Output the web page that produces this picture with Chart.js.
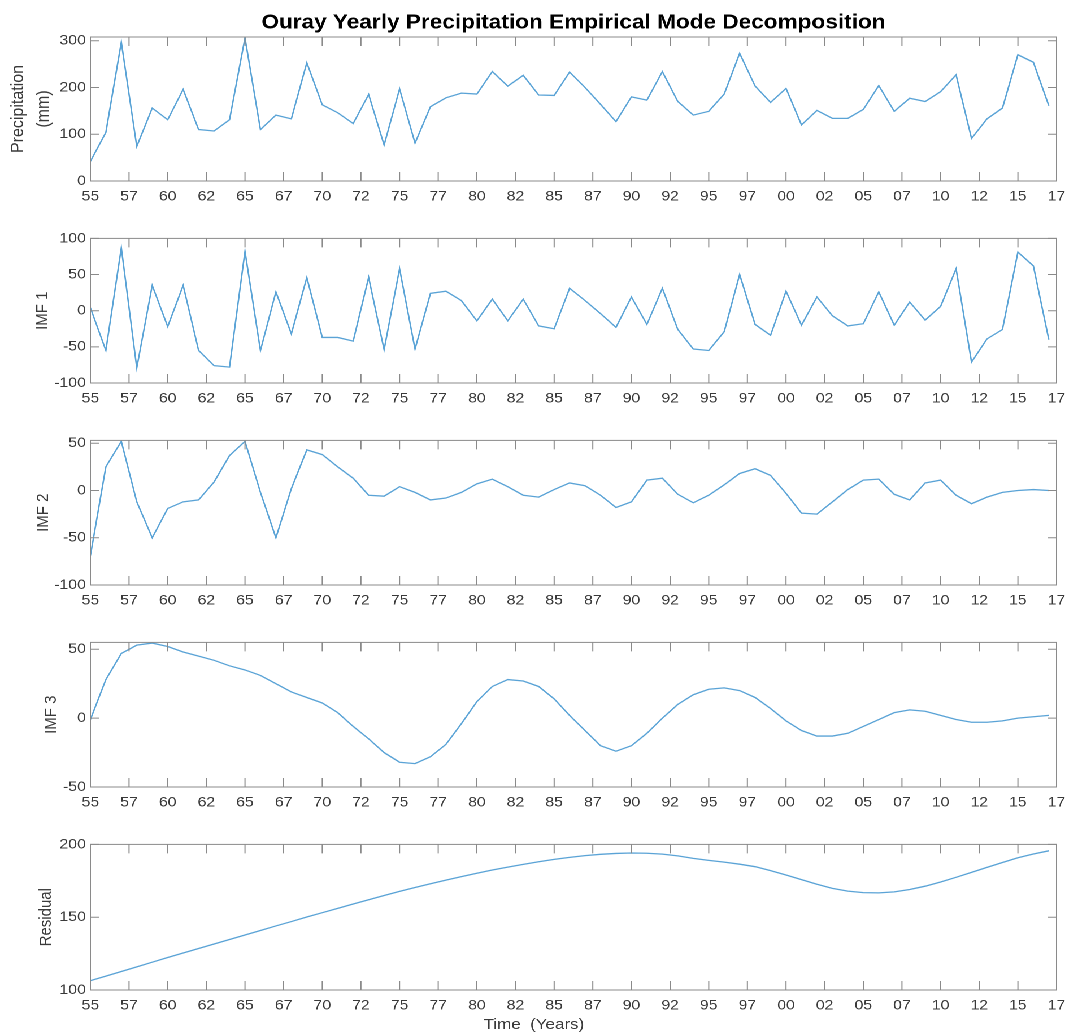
<!DOCTYPE html>
<html>
<head>
<meta charset="utf-8">
<title>Ouray Yearly Precipitation Empirical Mode Decomposition</title>
<script src="https://cdn.jsdelivr.net/npm/chart.js@4.4.1/dist/chart.umd.min.js"></script>
<style>
  html, body { margin: 0; padding: 0; background: #fff; overflow: hidden; }
  #page { position: relative; width: 1068px; height: 1036px; overflow: hidden; background: #fff; }
  /* the source figure is stretched horizontally, so the whole stage is too */
  #stage { position: absolute; left: 0; top: 0; width: 945px; height: 1036px; transform: scaleX(1.13); transform-origin: 0 0; }
  #stage canvas { position: absolute; left: 0; }
</style>
</head>
<body>
<div id="page"><div id="stage"></div></div>
<script>
// ---- data ----
const years = [1955, 1956, 1957, 1958, 1959, 1960, 1961, 1962, 1963, 1964,
  1965, 1966, 1967, 1968, 1969, 1970, 1971, 1972, 1973, 1974,
  1975, 1976, 1977, 1978, 1979, 1980, 1981, 1982, 1983, 1984,
  1985, 1986, 1987, 1988, 1989, 1990, 1991, 1992, 1993, 1994,
  1995, 1996, 1997, 1998, 1999, 2000, 2001, 2002, 2003, 2004,
  2005, 2006, 2007, 2008, 2009, 2010, 2011, 2012, 2013, 2014,
  2015, 2016, 2017];

const precipitation = [42, 104, 297, 74, 156, 131, 196, 110, 107, 131,
  306, 110, 141, 133, 253, 163, 146, 123, 185, 77,
  197, 81, 159, 178, 188, 186, 234, 203, 226, 184,
  183, 233, 200, 164, 127, 180, 173, 234, 170, 141,
  149, 186, 273, 203, 168, 198, 120, 151, 134, 134,
  153, 204, 149, 177, 170, 191, 227, 91, 133, 156,
  270, 254, 161];

const imf1 = [4, -55, 87, -79, 35, -22, 35, -55, -76, -78,
  82, -55, 26, -32, 46, -37, -37, -42, 46, -54,
  58, -53, 24, 27, 14, -14, 16, -14, 16, -21,
  -25, 31, 14, -4, -23, 19, -19, 31, -26, -53,
  -55, -29, 50, -19, -34, 27, -20, 19, -7, -21,
  -18, 26, -20, 12, -13, 6, 58, -71, -39, -26,
  81, 62, -40];

const imf2 = [-69, 25, 52, -12, -50, -19, -12, -10, 9, 37,
  52, -2, -50, 2, 43, 38, 25, 13, -5, -6,
  4, -2, -10, -8, -2, 7, 12, 4, -5, -7,
  1, 8, 5, -5, -18, -12, 11, 13, -4, -13,
  -5, 6, 18, 23, 16, -3, -24, -25, -12, 1,
  11, 12, -4, -10, 8, 11, -5, -14, -7, -2,
  0, 1, 0];

const imf3 = [-1, 28, 47, 53, 54.5, 52, 48, 45, 42, 38,
  35, 31, 25, 19, 15, 11, 4, -6, -15, -25,
  -32, -33, -28, -19, -4, 12, 23, 28, 27, 23,
  14, 2, -9, -20, -24, -20, -11, 0, 10, 17,
  21, 22, 20, 15, 7, -2, -9, -13, -13, -11,
  -6, -1, 4, 6, 5, 2, -1, -3, -3, -2,
  0, 1, 2];

const residual = [106.4, 109.5, 112.7, 115.9, 119.1, 122.3, 125.4, 128.5, 131.6, 134.7,
  137.8, 140.9, 144, 147, 150.1, 153.1, 156.1, 159.1, 162, 164.9,
  167.7, 170.4, 173, 175.5, 177.9, 180.2, 182.4, 184.4, 186.3, 188.1,
  189.7, 191.1, 192.3, 193.2, 193.8, 194.1, 193.9, 193.3, 192.1, 190.4,
  189, 187.8, 186.4, 184.7, 182, 179, 175.8, 172.6, 169.8, 167.9,
  166.9, 166.7, 167.4, 169, 171.3, 174.2, 177.4, 180.8, 184.2, 187.6,
  190.8, 193.4, 195.6];

const xTickValues = [1955, 1957.5, 1960, 1962.5, 1965, 1967.5, 1970, 1972.5, 1975, 1977.5,
  1980, 1982.5, 1985, 1987.5, 1990, 1992.5, 1995, 1997.5, 2000, 2002.5,
  2005, 2007.5, 2010, 2012.5, 2015, 2017.5];
const xTickLabels = ['55', '57', '60', '62', '65', '67', '70', '72', '75', '77',
  '80', '82', '85', '87', '90', '92', '95', '97', '00', '02',
  '05', '07', '10', '12', '15', '17'];

const precipTicks = [0, 100, 200, 300];
const imf1Ticks = [-100, -50, 0, 50, 100];
const imf2Ticks = [-100, -50, 0, 50];
const imf3Ticks = [-50, 0, 50];
const residualTicks = [100, 150, 200];

const chartTitle = 'Ouray Yearly Precipitation Empirical Mode Decomposition';
const xTitle = 'Time  (Years)';

// ---- layout / style ----
const FONT = "'Liberation Sans', Arial, Helvetica, sans-serif";
const LINE = '#5aa3d6';
const FRAME = '#8a8a8a';
const TEXT = '#3a3a3a';
const STAGE_W = 945;

const panels = [
  { values: precipitation, label: ['Precipitation', '(mm)'], min: 0, max: 308, ticks: precipTicks,
    canvasTop: 0, padTop: 0, plotBottom: 181, xHeight: 30, titleSize: 16, titlePad: 5, titleLH: 1.4 },
  { values: imf1, label: 'IMF 1', min: -100, max: 100, ticks: imf1Ticks,
    canvasTop: 226, padTop: 12, plotBottom: 383, xHeight: 30, titleSize: 15, titlePad: 29, titleLH: 1.2 },
  { values: imf2, label: 'IMF 2', min: -100, max: 53, ticks: imf2Ticks,
    canvasTop: 428, padTop: 12, plotBottom: 585, xHeight: 30, titleSize: 15, titlePad: 29.5, titleLH: 1.2 },
  { values: imf3, label: 'IMF 3', min: -50, max: 55, ticks: imf3Ticks,
    canvasTop: 630, padTop: 12, plotBottom: 787, xHeight: 30, titleSize: 15, titlePad: 36.5, titleLH: 1.2 },
  { values: residual, label: 'Residual', min: 100, max: 200, ticks: residualTicks,
    canvasTop: 832, padTop: 12, plotBottom: 990, xHeight: 46, titleSize: 15, titlePad: 32, titleLH: 1.2 }
];

// frame box + inward tick marks on all four sides, MATLAB style
const frameTicks = {
  id: 'frameTicks',
  afterDatasetsDraw(chart) {
    const { ctx, chartArea: a, scales: { x, y } } = chart;
    ctx.save();
    ctx.strokeStyle = FRAME;
    ctx.lineWidth = 1;
    ctx.strokeRect(a.left, a.top, a.right - a.left, a.bottom - a.top);
    ctx.beginPath();
    x.ticks.forEach(t => {
      const px = x.getPixelForValue(t.value);
      ctx.moveTo(px, a.bottom); ctx.lineTo(px, a.bottom - 9);
      ctx.moveTo(px, a.top); ctx.lineTo(px, a.top + 9);
    });
    y.ticks.forEach(t => {
      const py = y.getPixelForValue(t.value);
      ctx.moveTo(a.left, py); ctx.lineTo(a.left + 8, py);
      ctx.moveTo(a.right, py); ctx.lineTo(a.right - 8, py);
    });
    ctx.stroke();
    ctx.restore();
  }
};

// x label of the bottom panel sits a little left of centre in the source
const xLabel = {
  id: 'xLabel',
  afterDraw(chart, args, opts) {
    if (!opts.text) return;
    const { ctx, chartArea: a } = chart;
    ctx.save();
    ctx.font = '15px ' + FONT;
    ctx.fillStyle = TEXT;
    ctx.textAlign = 'center';
    ctx.textBaseline = 'middle';
    ctx.fillText(opts.text, (a.left + a.right) / 2 - 35, a.bottom + 35);
    ctx.restore();
  }
};

Chart.defaults.font.family = FONT;
Chart.defaults.color = TEXT;

const stage = document.getElementById('stage');

panels.forEach((p, i) => {
  const last = i === panels.length - 1;
  const canvas = document.createElement('canvas');
  canvas.width = STAGE_W;
  canvas.height = p.plotBottom - p.canvasTop + p.xHeight;
  canvas.style.top = p.canvasTop + 'px';
  stage.appendChild(canvas);

  new Chart(canvas, {
    type: 'line',
    data: {
      datasets: [{
        data: years.map((yr, k) => ({ x: yr, y: p.values[k] })),
        borderColor: LINE,
        borderWidth: 1.3,
        pointRadius: 0,
        tension: 0,
        fill: false
      }]
    },
    options: {
      responsive: false,
      animation: false,
      devicePixelRatio: 2,
      layout: { padding: { top: p.padTop, right: 10, left: 0, bottom: 0 } },
      plugins: {
        legend: { display: false },
        tooltip: { enabled: false },
        xLabel: { text: last ? xTitle : '' },
        title: {
          display: i === 0,
          text: chartTitle,
          fullSize: false,
          color: '#000',
          font: { size: 20, weight: 'bold', family: FONT },
          padding: { top: 11, bottom: 2 }
        }
      },
      scales: {
        x: {
          type: 'linear',
          min: 1955,
          max: 2017.5,
          grid: { display: false, drawTicks: false },
          border: { display: false },
          afterBuildTicks: s => { s.ticks = xTickValues.map(v => ({ value: v })); },
          afterFit: s => { s.height = p.xHeight; s.paddingLeft = 0; s.paddingRight = 0; },
          ticks: {
            autoSkip: false,
            maxRotation: 0,
            padding: 7,
            color: TEXT,
            font: { size: 14 },
            callback: (v, idx) => xTickLabels[idx]
          }
        },
        y: {
          min: p.min,
          max: p.max,
          grid: { display: false, drawTicks: false },
          border: { display: false },
          afterBuildTicks: s => { s.ticks = p.ticks.map(v => ({ value: v })); },
          afterFit: s => { s.width = 80; },
          ticks: {
            padding: 4,
            color: TEXT,
            font: { size: 14 },
            callback: v => String(v)
          },
          title: {
            display: true,
            text: p.label,
            color: TEXT,
            font: { size: p.titleSize, lineHeight: p.titleLH },
            padding: { top: p.titlePad, bottom: 0 }
          }
        }
      }
    },
    plugins: [frameTicks, xLabel]
  });
});
</script>
</body>
</html>
